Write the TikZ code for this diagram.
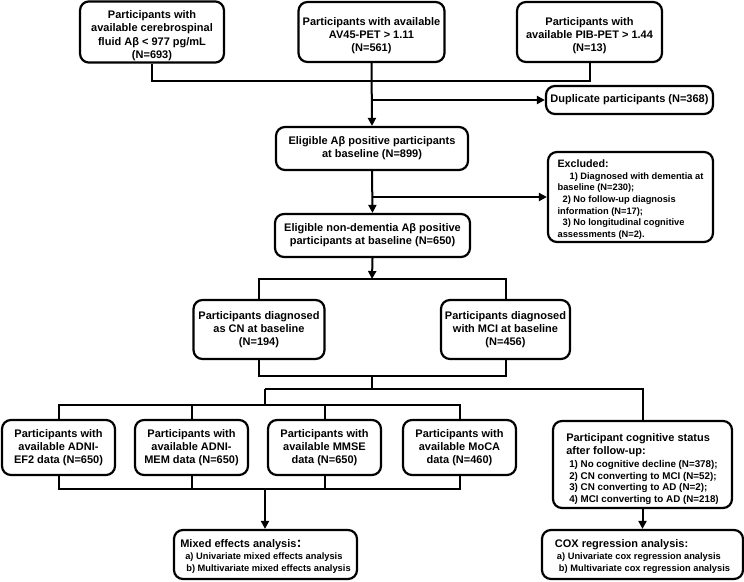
\documentclass[tikz,border=0pt]{standalone}
\usepackage{fontspec}
\setmainfont{Liberation Sans}
\newfontfamily\cjkfont{Noto Sans CJK SC}
\usetikzlibrary{arrows.meta}
\newcommand{\bigf}{\fontsize{11}{13.3}\selectfont}
\newcommand{\smf}{\fontsize{9.3}{11.6}\selectfont}
\newcommand{\midf}{\fontsize{9.8}{11.6}\selectfont}
\newcommand{\tstrut}[1]{\rule{0pt}{#1}}
\tikzset{
  box/.style={draw, line width=2.2pt, rounded corners=9pt, align=center, inner sep=2pt,
    font=\bfseries\bigf},
  lbox/.style={box, align=left},
  conn/.style={line width=2pt},
  arr/.style={line width=2pt, -{Triangle[length=8pt,width=8pt]}},
}
\begin{document}
\begin{tikzpicture}[x=1pt,y=-1pt]
\useasboundingbox (0,0) rectangle (744,581);
% top row
\node[box, minimum width=144, minimum height=60] (A) at (152,32)
  {\tstrut{15pt}Participants with\\available cerebrospinal\\fluid Aβ < 977 pg/mL\\(N=693)};
\node[box, minimum width=146, minimum height=60] (B) at (371.5,32)
  {\tstrut{15.5pt}Participants with available\\AV45-PET > 1.11\\(N=561)};
\node[box, minimum width=145, minimum height=60] (C) at (589.5,32)
  {\tstrut{15.5pt}Participants with\\available PIB-PET > 1.44\\(N=13)};
\node[box, minimum width=167, minimum height=28] (Dup) at (629.5,100)
  {Duplicate participants (N=368)};
\node[box, minimum width=192, minimum height=43] (Elig) at (372,148.5)
  {Eligible Aβ positive participants\\at baseline (N=899)};
\node[lbox, minimum width=165, minimum height=90, font=\bfseries\smf] (Excl) at (630.5,197)
  {{\tstrut{13pt}\fontsize{10.7}{12}\selectfont Excluded:}\\
   \hspace*{12pt}1) Diagnosed with dementia at\\
   baseline (N=230);\\
   \hspace*{5pt}2) No follow-up diagnosis\\
   information (N=17);\\
   \hspace*{5pt}3) No longitudinal cognitive\\
   assessments (N=2).};
\node[box, minimum width=195, minimum height=43] (Non) at (372.5,235.5)
  {Eligible non-dementia Aβ positive\\participants at baseline (N=650)};
% diagnosis
\node[box, minimum width=131, minimum height=59] (CN) at (259,329.5)
  {Participants diagnosed\\as CN at baseline\\(N=194)};
\node[box, minimum width=129, minimum height=59] (MCI) at (505.5,329.5)
  {Participants diagnosed\\with MCI at baseline\\(N=456)};
% four data boxes
\node[box, minimum width=113, minimum height=55] (EF) at (58.5,447.5)
  {Participants with\\available ADNI-\\EF2 data (N=650)};
\node[box, minimum width=113, minimum height=55] (MEM) at (191.5,447.5)
  {Participants with\\available ADNI-\\MEM data (N=650)};
\node[box, minimum width=113, minimum height=55] (MMSE) at (324.5,447.5)
  {Participants with\\available MMSE\\data (N=650)};
\node[box, minimum width=113, minimum height=55] (MoCA) at (459.5,447.5)
  {Participants with\\available MoCA\\data (N=460)};
\node[lbox, minimum width=179, minimum height=87] (Cog) at (642.5,464.5)
  {\tstrut{17pt}Participant cognitive status\\
   after follow-up:\\[-0.5pt]
   {\midf\hspace*{3pt}1) No cognitive decline (N=378);}\\[-1.7pt]
   {\midf\hspace*{3pt}2) CN converting to MCI (N=52);}\\[-1.7pt]
   {\midf\hspace*{3pt}3) CN converting to AD (N=2);}\\[-1.7pt]
   {\midf\hspace*{3pt}4) MCI converting to AD (N=218)}};
\node[lbox, minimum width=183, minimum height=49] (Mix) at (265.5,554.5)
  {\tstrut{12pt}Mixed effects analysis{\cjkfont ：}\\[-1.5pt]
   {\smf\hspace*{5pt}a) Univariate mixed effects analysis}\\[-1.5pt]
   {\smf\hspace*{6pt}b) Multivariate mixed effects analysis}};
\node[lbox, minimum width=201, minimum height=49] (Cox) at (642.5,554.5)
  {\tstrut{12pt}COX regression analysis:\\[-1.5pt]
   {\smf\hspace*{2pt}a) Univariate cox regression analysis}\\[-1.5pt]
   {\smf\hspace*{4pt}b) Multivariate cox regression analysis}};
% junction coordinates
\coordinate (j1) at (372,81);
\coordinate (j2) at (372,279);
\coordinate (j3) at (372,376);
\coordinate (j4) at (372,389);
\coordinate (j5) at (265,389);
\coordinate (j6) at (265,405);
\coordinate (j7) at (265,489);
% connectors
\draw[conn] (A.south) |- (j1);
\draw[conn] (C.south) |- (j1);
\draw[arr] (B.south) -- (Elig.north);
\draw[arr] (B.south |- Dup.west) -- (Dup.west);
\draw[arr] (Elig.south) -- (Non.north);
\draw[arr] (Elig.south |- Excl.west) -- (Excl.west);
\draw[arr] (Non.south) -- (j2);
\draw[conn] (CN.north) |- (j2) -| (MCI.north);
\draw[conn] (CN.south) |- (j3) -| (MCI.south);
\draw[conn] (j3) -- (j4);
\draw[conn] (j5) -- (Cog.north |- j5) -- (Cog.north);
\draw[conn] (j5) -- (j6);
\draw[conn] (EF.north) |- (j6) -| (MoCA.north);
\draw[conn] (MEM.north) -- (MEM.north |- j6);
\draw[conn] (MMSE.north) -- (MMSE.north |- j6);
\draw[conn] (EF.south) |- (j7) -| (MoCA.south);
\draw[conn] (MEM.south) -- (MEM.south |- j7);
\draw[conn] (MMSE.south) -- (MMSE.south |- j7);
\draw[arr] (j7) -- (j7 |- Mix.north);
\draw[arr] (Cog.south) -- (Cox.north);
\end{tikzpicture}
\end{document}
